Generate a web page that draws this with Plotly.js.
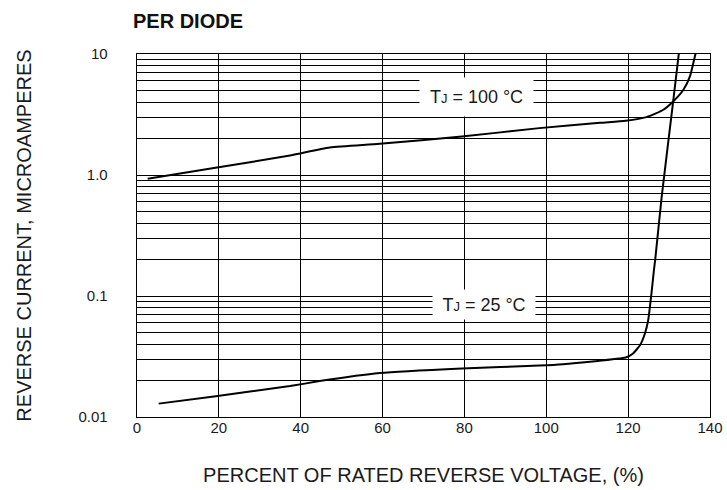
<!DOCTYPE html>
<html>
<head>
<meta charset="utf-8">
<script src="https://cdn.plot.ly/plotly-3.0.1.min.js"></script>
<style>html,body{margin:0;padding:0;background:#fff;}#chart{width:727px;height:490px;}</style>
</head>
<body>
<div id="chart"></div>
<script>
// TJ = 100 °C curve: percent of rated reverse voltage vs reverse current (µA)
var x100 = [2.6, 18.8, 37.4, 47.1, 59.3, 79.4, 98.3, 113.1, 119.4, 124.5, 128.6, 131.0, 133.5, 135.1, 136.3, 136.7];
var y100 = [0.93, 1.14, 1.45, 1.69, 1.81, 2.08, 2.44, 2.70, 2.81, 3.01, 3.46, 4.05, 5.06, 6.53, 9.55, 10.8];

// TJ = 25 °C curve
var x25 = [5.3, 18.8, 37.4, 44.6, 59.3, 79.4, 98.3, 104.1, 119.4, 121.2, 122.9, 124.1, 124.9, 125.7, 126.3, 126.6, 128.2, 131.0, 132.4];
var y25 = [0.0129, 0.0148, 0.0180, 0.0198, 0.0231, 0.0252, 0.0266, 0.0273, 0.0310, 0.0335, 0.0392, 0.0490, 0.0632, 0.105, 0.164, 0.198, 0.662, 4.05, 10.2];

// axis ticks
var xTicks = [0, 20, 40, 60, 80, 100, 120, 140];
var yTickVals = [0.01,0.02,0.03,0.04,0.05,0.06,0.07,0.08,0.09,
                 0.1,0.2,0.3,0.4,0.5,0.6,0.7,0.8,0.9,
                 1,2,3,4,5,6,7,8,9,10];
var yTickText = ['0.01','','','','','','','','',
                 '0.1','','','','','','','','',
                 '1.0','','','','','','','','',
                 '10'];

// labels
var labels = [
  {x: 82.9, y: 4.43, text: 'T<span style="font-size:13px">J</span> = 100 °C', w: 113, h: 38},
  {x: 84.7, y: 0.0849, text: 'T<span style="font-size:13px">J</span> = 25 °C', w: 102, h: 29}
];

var FONT = '"Liberation Sans", Arial, Helvetica, sans-serif';

var traces = [
  {x: x100, y: y100, mode: 'lines', type: 'scatter', line: {color: '#000', width: 2, shape: 'spline', smoothing: 0.6}, hoverinfo: 'skip'},
  {x: x25, y: y25, mode: 'lines', type: 'scatter', line: {color: '#000', width: 2, shape: 'spline', smoothing: 0.4}, hoverinfo: 'skip'}
];

var layout = {
  width: 727, height: 490,
  margin: {l: 137, r: 17, t: 54, b: 73},
  paper_bgcolor: '#fff', plot_bgcolor: '#fff',
  showlegend: false,
  font: {family: FONT, color: '#1a1a1a'},
  title: {
    text: '<b>PER DIODE</b>',
    font: {family: FONT, size: 20, color: '#111'},
    xref: 'container', x: 133/727, xanchor: 'left',
    yref: 'container', y: 1 - 20.5/490, yanchor: 'middle'
  },
  xaxis: {
    range: [0, 140],
    tickvals: xTicks,
    ticktext: xTicks.map(String),
    tickfont: {family: FONT, size: 15, color: '#1a1a1a'},
    showgrid: true, gridcolor: '#000', gridwidth: 1,
    zeroline: false,
    showline: true, mirror: true, linecolor: '#000', linewidth: 1.3,
    ticks: '', ticklabelstandoff: -3,
    title: {text: 'PERCENT OF RATED REVERSE VOLTAGE, (%)', font: {family: FONT, size: 20, color: '#1a1a1a'}, standoff: 32},
    fixedrange: true
  },
  yaxis: {
    type: 'log',
    range: [-2, 1],
    tickvals: yTickVals,
    ticktext: yTickText,
    tickfont: {family: FONT, size: 15, color: '#1a1a1a'},
    showgrid: true, gridcolor: '#000', gridwidth: 1,
    zeroline: false,
    showline: true, mirror: true, linecolor: '#000', linewidth: 1.3,
    ticks: '', ticklabelstandoff: 25,
    title: {text: 'REVERSE CURRENT, MICROAMPERES', font: {family: FONT, size: 20, color: '#1a1a1a'}, standoff: 41},
    fixedrange: true
  },
  annotations: labels.map(function (a) {
    return {
      x: a.x, y: Math.log10(a.y), xref: 'x', yref: 'y',
      text: a.text, showarrow: false,
      font: {family: FONT, size: 18, color: '#1a1a1a'},
      bgcolor: '#fff', width: a.w, height: a.h, borderpad: 0,
      xanchor: 'center', yanchor: 'middle'
    };
  })
};

Plotly.newPlot('chart', traces, layout, {staticPlot: true, displayModeBar: false});
</script>
</body>
</html>
